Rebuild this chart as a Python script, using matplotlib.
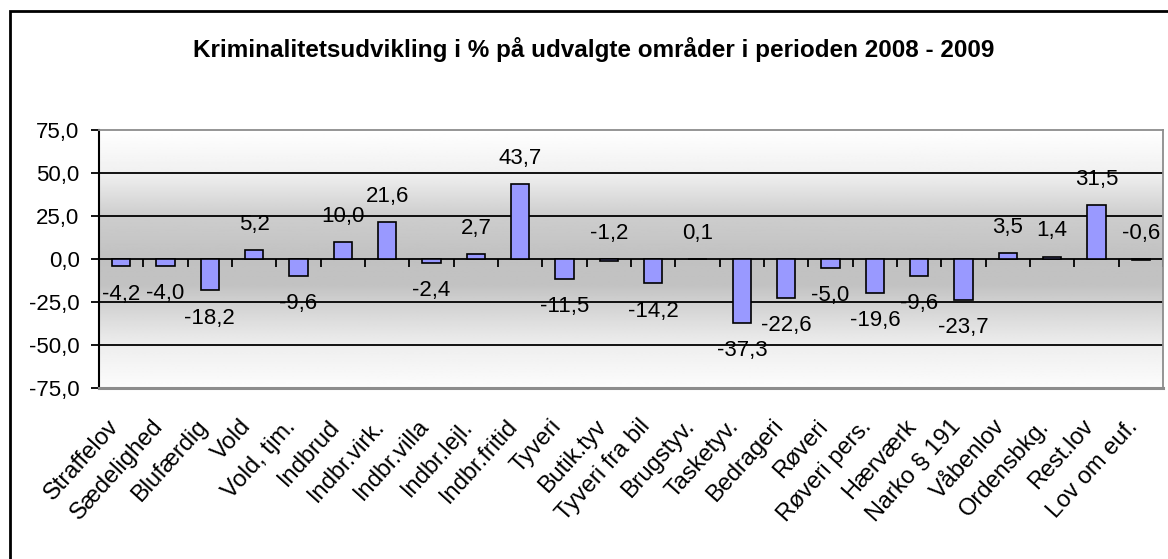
import numpy as np
import matplotlib
matplotlib.use("Agg")
import matplotlib.pyplot as plt
from matplotlib.patches import Rectangle
from matplotlib.ticker import FuncFormatter
from matplotlib.transforms import ScaledTranslation

plt.rcParams['font.family'] = ['Liberation Sans', 'DejaVu Sans']
plt.rcParams['axes.unicode_minus'] = False

# data
categories = ["Straffelov", "Sædelighed", "Blufærdig", "Vold", "Vold, tjm.",
              "Indbrud", "Indbr.virk.", "Indbr.villa", "Indbr.lejl.", "Indbr.fritid",
              "Tyveri", "Butik.tyv", "Tyveri fra bil", "Brugstyv.", "Tasketyv.",
              "Bedrageri", "Røveri", "Røveri pers.", "Hærværk", "Narko § 191",
              "Våbenlov", "Ordensbkg.", "Rest.lov", "Lov om euf."]
values = [-4.2, -4.0, -18.2, 5.2, -9.6, 10.0, 21.6, -2.4, 2.7, 43.7,
          -11.5, -1.2, -14.2, 0.1, -37.3, -22.6, -5.0, -19.6, -9.6, -23.7,
          3.5, 1.4, 31.5, -0.6]
yticks = [-75, -50, -25, 0, 25, 50, 75]
title = "Kriminalitetsudvikling i % på udvalgte områder i perioden 2008 - 2009"

bar_color = "#9999FF"
W, H = 1168, 559

fig = plt.figure(figsize=(W / 100, H / 100), dpi=100)
ax = fig.add_axes([99 / W, 1 - 388 / H, (1163 - 99) / W, (388 - 130) / H])

n = len(categories)
x = np.arange(n)
ax.set_xlim(-0.5, n - 0.5)
ax.set_ylim(yticks[0], yticks[-1])

# background gradient (white -> grey -> white)
ys = np.linspace(yticks[-1], yticks[0], 300)
shade = np.interp(ys, [-75, -50, -25, -15, 0, 25, 50, 75],
                  [252, 238, 208, 194, 193, 205, 240, 255]) / 255.0
img = np.repeat(shade[:, None], 2, axis=1)
ax.imshow(img, cmap="gray", vmin=0, vmax=1, aspect="auto",
          extent=[-0.5, n - 0.5, yticks[0], yticks[-1]], zorder=0,
          interpolation="bilinear")

# grid lines
for yv in yticks[1:-1]:
    ax.axhline(yv, color="black", lw=1.3, zorder=1)

# category boundary ticks on zero line
bounds = np.arange(n + 1) - 0.5
ax.vlines(bounds[1:], 0, -4.5, color="black", lw=1.3, zorder=2)

ax.bar(x, values, width=0.42, color=bar_color, edgecolor="black",
       linewidth=1.2, zorder=3)

fmt = lambda v: f"{v:.1f}".replace(".", ",")
for xi, v in zip(x, values):
    above = v > -2
    ax.annotate(fmt(v), (xi, v if v > 0 else (0 if above else v)),
                xytext=(0, 18.5 if above else -20), textcoords="offset points",
                ha="center", va="center", fontsize=16, zorder=4)

ax.yaxis.set_major_formatter(FuncFormatter(lambda v, p: fmt(v)))
ax.set_yticks(yticks)
ax.tick_params(axis="y", direction="out", length=6, width=1.3,
               labelsize=16, pad=8, colors="black")
ax.set_xticks(x)
ax.set_xticklabels(categories)
ax.tick_params(axis="x", length=0, labelsize=17, pad=28)
plt.setp(ax.get_xticklabels(), rotation=48, ha="right", va="baseline",
         rotation_mode="anchor")
for lab in ax.get_xticklabels():
    lab.set_transform(lab.get_transform() + ScaledTranslation(-0.02, 0, fig.dpi_scale_trans))

for s in ["top", "right"]:
    ax.spines[s].set_color("#8c8c8c")
    ax.spines[s].set_linewidth(1.3)
ax.spines["bottom"].set_color("#8c8c8c")
ax.spines["bottom"].set_linewidth(2.2)
ax.spines["left"].set_color("black")
ax.spines["left"].set_linewidth(1.5)

fig.text(594 / W, 1 - 49 / H, title, ha="center", va="center",
         fontsize=17.5, fontweight="bold")

# outer chart frame (clipped on the right and bottom)
fig.patches.append(Rectangle((10 / W, -0.1), 1.2, 1 - 11 / H + 0.1,
                             transform=fig.transFigure, fill=False,
                             edgecolor="black", lw=2))

fig.savefig("out.png", dpi=100)
